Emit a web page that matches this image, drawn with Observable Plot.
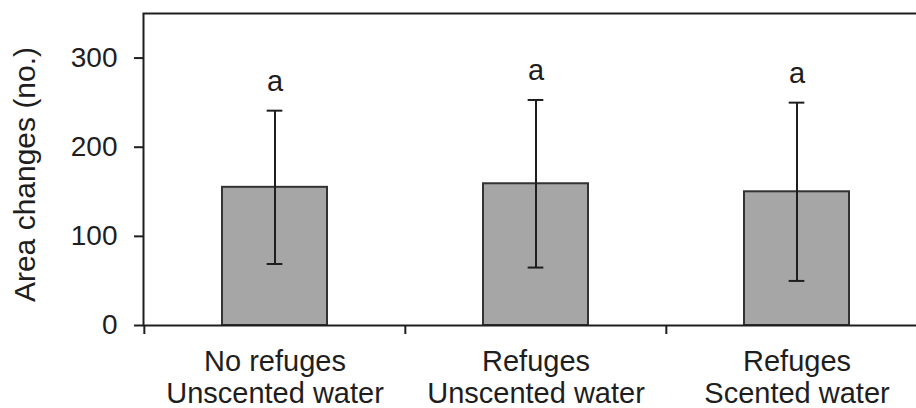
<!DOCTYPE html>
<html><head><meta charset="utf-8">
<script src="https://cdn.jsdelivr.net/npm/d3@7"></script>
<script src="https://cdn.jsdelivr.net/npm/@observablehq/plot@0.6"></script>
<style>body{margin:0;background:#fff;overflow:hidden} svg{display:block}</style>
</head><body><div id="chart"></div>
<script>
const categories = ["No refuges\nUnscented water", "Refuges\nUnscented water", "Refuges\nScented water"];
const means = [155, 159, 150];
const errors = [86, 94, 100];
const letters = ["a", "a", "a"];
const yTicks = [0, 100, 200, 300];
const yLabel = "Area changes (no.)";

const data = categories.map((c, i) => ({cat: c, mean: means[i], lo: means[i] - errors[i], hi: means[i] + errors[i], letter: letters[i]}));
const W = 916, H = 408, ML = 143, MR = -11;
const step = (W - ML - MR) / categories.length;
const ink = "#1e1e1e";
const chart = Plot.plot({
  width: W, height: H, marginLeft: ML, marginRight: MR, marginTop: 13, marginBottom: 83,
  style: {fontFamily: "'Liberation Sans', Arial, sans-serif", fontSize: "28px", color: ink, background: "#fff", overflow: "hidden"},
  x: {domain: categories, padding: 0, axis: null},
  y: {domain: [0, 350], axis: null},
  marks: [
    Plot.barY(data, {x: "cat", y: "mean", fill: "#a6a6a6", stroke: "#333", strokeWidth: 2, insetLeft: 78, insetRight: 78}),
    Plot.ruleX(data, {x: "cat", y1: "lo", y2: "hi", stroke: ink, strokeWidth: 2}),
    Plot.tickY(data, {x: "cat", y: "lo", stroke: ink, strokeWidth: 2, insetLeft: step / 2 - 8, insetRight: step / 2 - 8}),
    Plot.tickY(data, {x: "cat", y: "hi", stroke: ink, strokeWidth: 2, insetLeft: step / 2 - 8, insetRight: step / 2 - 8}),
    Plot.text(data, {x: "cat", y: "hi", text: "letter", dy: -20, lineAnchor: "bottom", fontSize: 29, fill: ink}),
    Plot.frame({stroke: ink, strokeWidth: 2}),
    Plot.axisY({ticks: yTicks, tickSize: 9, tickPadding: 17, strokeWidth: 2, fontSize: 28, label: null}),
    Plot.text([yLabel], {text: d => d, frameAnchor: "left", rotate: -90, dx: -130, dy: 5, lineAnchor: "top", textAnchor: "middle", fontSize: 30, fill: ink}),
    Plot.axisX({tickSize: 9, strokeWidth: 2, dx: -step / 2, tickFormat: () => "", label: null}),
    Plot.axisX({tickSize: 0, tickPadding: 23, fontSize: 29, lineHeight: 1.1, label: null})
  ]
});
document.getElementById("chart").append(chart);
</script>
</body></html>
